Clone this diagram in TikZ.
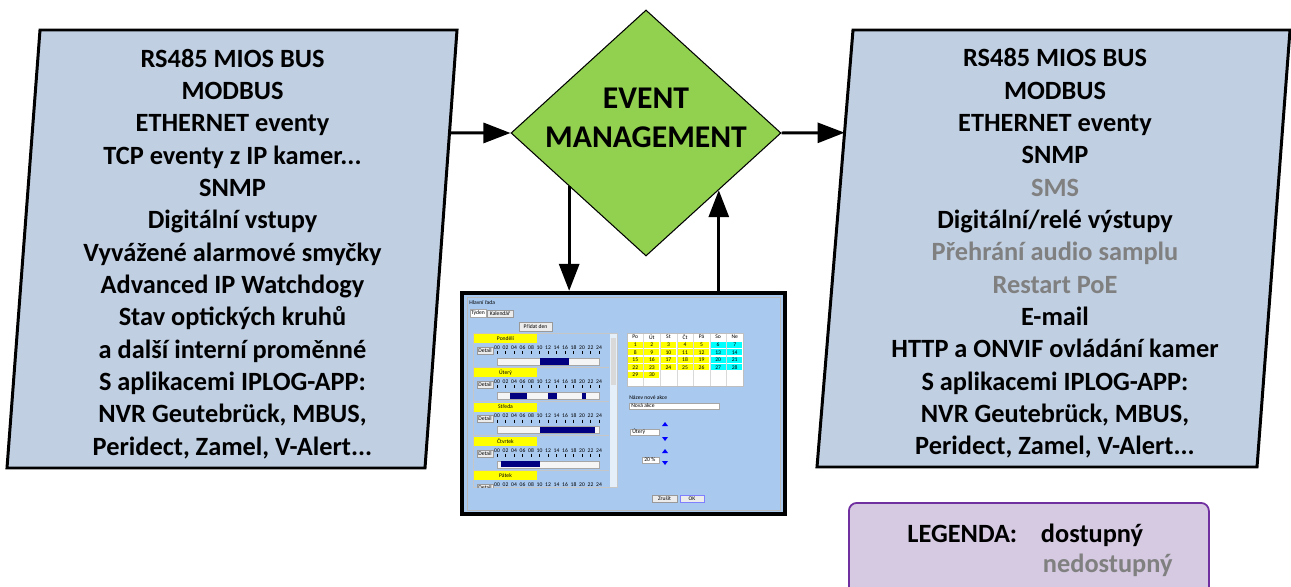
\documentclass[tikz,border=0pt]{standalone}
\usepackage{fontspec}
\setmainfont{Carlito}
\usetikzlibrary{shapes.geometric,arrows.meta,calc,positioning}
\definecolor{boxblue}{RGB}{192,207,226}
\definecolor{emgreen}{RGB}{146,208,80}
\definecolor{shotblue}{RGB}{169,201,239}
\definecolor{navybar}{RGB}{0,0,128}
\definecolor{calyellow}{RGB}{255,255,0}
\definecolor{calcyan}{RGB}{0,255,255}
\definecolor{legfill}{RGB}{213,202,225}
\definecolor{legdraw}{RGB}{112,48,160}
\definecolor{offgray}{RGB}{128,128,128}
\tikzset{
%Define standard arrow tip
>={Triangle[length=5.4mm,width=4mm]},
%Define styles for the blocks and the lines
io box/.style={draw=black, line width=1.7pt, fill=boxblue},
io text/.style={font=\fontsize{15}{18.4}\selectfont\bfseries, align=center, inner sep=0pt},
flow/.style={->, line width=1.7pt},
not available/.style={text=offgray},
%Styles for the small screenshot
gui text/.style={font=\fontsize{3.2}{4}\selectfont, inner sep=0pt},
gui field/.style={draw=gray!70, fill=white, line width=0.2pt},
gui button/.style={draw=gray!80, fill=gray!15, line width=0.2pt},
}

\begin{document}
\begin{tikzpicture}[x=0.2mm, y=-0.2mm]
    \useasboundingbox (0,0) rectangle (1291,587);
    %Input block
    \coordinate (in-nw) at (40,30);
    \coordinate (in-ne) at (457,30);
    \coordinate (in-se) at (425,468);
    \coordinate (in-sw) at (7,468);
    \draw[io box] (in-nw) -- (in-ne) -- (in-se) -- (in-sw) -- cycle;
    \node[io text] (intext) at ($(in-nw)!0.5!(in-se)+(0,5)$) {RS485 MIOS BUS\\MODBUS\\ETHERNET eventy\\TCP eventy z IP kamer...\\SNMP\\Digitální vstupy\\Vyvážené alarmové smyčky\\Advanced IP Watchdogy\\Stav optických kruhů\\a další interní proměnné\\S aplikacemi IPLOG-APP:\\NVR Geutebrück, MBUS,\\Peridect, Zamel, V-Alert...};
    \coordinate (in-out) at ($(in-ne)!0.235!(in-se)$);

    %Output block
    \coordinate (out-nw) at (853,30);
    \coordinate (out-ne) at (1290,30);
    \coordinate (out-se) at (1257,467);
    \coordinate (out-sw) at (817,467);
    \draw[io box] (out-nw) -- (out-ne) -- (out-se) -- (out-sw) -- cycle;
    \node[io text] (outtext) at ($(out-nw)!0.5!(out-se)+(0,5)$) {RS485 MIOS BUS\\MODBUS\\ETHERNET eventy\\SNMP\\\textcolor{offgray}{SMS}\\Digitální/relé výstupy\\\textcolor{offgray}{Přehrání audio samplu}\\\textcolor{offgray}{Restart PoE}\\E-mail\\HTTP a ONVIF ovládání kamer\\S aplikacemi IPLOG-APP:\\NVR Geutebrück, MBUS,\\Peridect, Zamel, V-Alert...};
    \coordinate (out-in) at ($(out-nw)!0.235!(out-sw)$);

    %Event management
    \node[diamond, draw=black, fill=emgreen, line width=0.6pt, inner sep=0pt,
      minimum width=5.4cm, minimum height=4.92cm] (em) at (646,133) {};
    \node[font=\fontsize{18}{22}\selectfont\bfseries, align=center] (emtext) at (646,118) {EVENT\\MANAGEMENT};

    %Screenshot of the time schedule
    \node[draw=black, line width=2.4pt, fill=shotblue, inner sep=0pt,
      minimum width=6.46cm, minimum height=4.42cm] (shot) at (623.5,403.5) {};
    \draw[gray!55, line width=0.3pt] (467,297) rectangle (780,510);
    \node[gui text, anchor=west] (title) at (469,303) {Hlavní řada};
    \draw[gui field] (470,309) rectangle (486,317);
    \node[gui text] (tab1) at (478,313) {Týden};
    \draw[gui button] (487,310) rectangle (513,317);
    \node[gui text] (tab2) at (500,313.5) {Kalendář};
    \draw[gui button] (519,322) rectangle (552,331);
    \node[gui text] (addday) at (535.5,326.5) {Přidat den};
    \draw[gray!45, line width=0.3pt] (473,333) rectangle (617,487);
    \fill[white!70!shotblue] (610,334) rectangle (617,487);
    \fill[gray!30] (611,338) rectangle (616,385);
    \begin{scope}
      \clip (473,333) rectangle (610,487);
      \foreach \d/\segs [count=\i from 0] in {Pondělí/{10/17}, Úterý/{3/7,12/14,20/21}, Středa/{10/23}, Čtvrtek/{1/10}, Pátek/{8/16}} {
        \pgfmathsetmacro\ry{334+34.25*\i}
        \draw[gray!45, line width=0.3pt] (474,\ry-1) -- (609,\ry-1);
        \fill[calyellow] (474,\ry) rectangle (537,\ry+9);
        \node[gui text] (day\i) at (505.5,\ry+4.5) {\d};
        \draw[gui button] (477,\ry+13) rectangle (493,\ry+20);
        \node[gui text] (detail\i) at (485,\ry+16.5) {Detail};
        \foreach \h in {0,2,...,24} {
          \node[gui text] at ({497+\h*4.25},\ry+13.5) {\ifnum\h<10 0\fi\h};
          \draw[line width=0.3pt] ({497+\h*4.25},\ry+17) -- ++(0,3);
        }
        \draw[gui field, fill=gray!8] (497,\ry+24) rectangle (599,\ry+31);
        \foreach \a/\b in \segs
          \fill[navybar] ({497+\a*4.25},\ry+24.3) rectangle ({497+\b*4.25},\ry+30.7);
      }
    \end{scope}
    %Calendar
    \fill[white] (627,333) rectangle (743,386);
    \foreach \d [count=\c from 0] in {Po,Út,St,Čt,Pá,So,Ne}
      \node[gui text] (hd\c) at ({627+\c*16.57+8.3},337) {\d};
    \foreach \n in {1,...,30} {
      \pgfmathtruncatemacro\col{mod(\n-1,7)}
      \pgfmathtruncatemacro\row{div(\n-1,7)}
      \ifnum\col<5 \def\cf{calyellow}\else\def\cf{calcyan}\fi
      \fill[\cf] ({627+\col*16.57+0.8},{341+\row*7.5+0.6}) rectangle ++(15,6.3);
      \node[gui text] (cal\n) at ({627+\col*16.57+8.3},{341+\row*7.5+3.75}) {\n};
    }
    \foreach \c in {1,...,6}
      \draw[gray!30, line width=0.2pt] ({627+\c*16.57},333) -- ++(0,53);
    \draw[gray!50, line width=0.3pt] (627,333) rectangle (743,386);
    %Fields and buttons
    \node[gui text, anchor=west] (namelbl) at (629,398) {Název nové akce};
    \draw[gui field] (629,403) rectangle (719,409);
    \node[gui text, anchor=west] (name) at (631,406) {Nová akce};
    \draw[gui field] (630,429) rectangle (659,435);
    \node[gui text, anchor=west] (dayfield) at (632,432) {Úterý};
    \draw[gui field] (642,457) rectangle (659,463);
    \node[gui text, anchor=west] (pctfield) at (644,460) {20 \%};
    \foreach \ty in {424,451} \fill[blue] (662,\ty+2) -- (668,\ty+2) -- (665,\ty-2) -- cycle;
    \foreach \ty in {439,463} \fill[blue] (662,\ty-2) -- (668,\ty-2) -- (665,\ty+2) -- cycle;
    \draw[gui button] (652,495) rectangle (677,502);
    \node[gui text] (cancel) at (664.5,498.5) {Zrušit};
    \draw[gui button, draw=blue!50] (680,495) rectangle (704,502);
    \node[gui text] (ok) at (692,498.5) {OK};

    %Connections
    \coordinate (down) at ($(em.west)!0.433!(em.south)$);
    \coordinate (up) at ($(em.east)!0.463!(em.south)$);
    \draw[flow] (in-out) -- (em.west);
    \draw[flow] (em.east) -- (out-in);
    \draw[flow] (down) -- (down |- shot.north);
    \draw[flow] (up |- shot.north) -- (up);

    %Legend
    \node[draw=legdraw, line width=1pt, fill=legfill, rounded corners=1.6mm, anchor=north west,
      minimum width=7.2cm, minimum height=2.4cm] (legend) at (848,502) {};
    \node[io text, anchor=base west] (legtitle) at (907,542) {LEGENDA:};
    \node[io text, base right=4.6mm of legtitle] (avail) {dostupný};
    \node[io text, not available, anchor=base west] (unavail) at ($(avail.base west)+(2,30)$) {nedostupný};
\end{tikzpicture}
\end{document}
